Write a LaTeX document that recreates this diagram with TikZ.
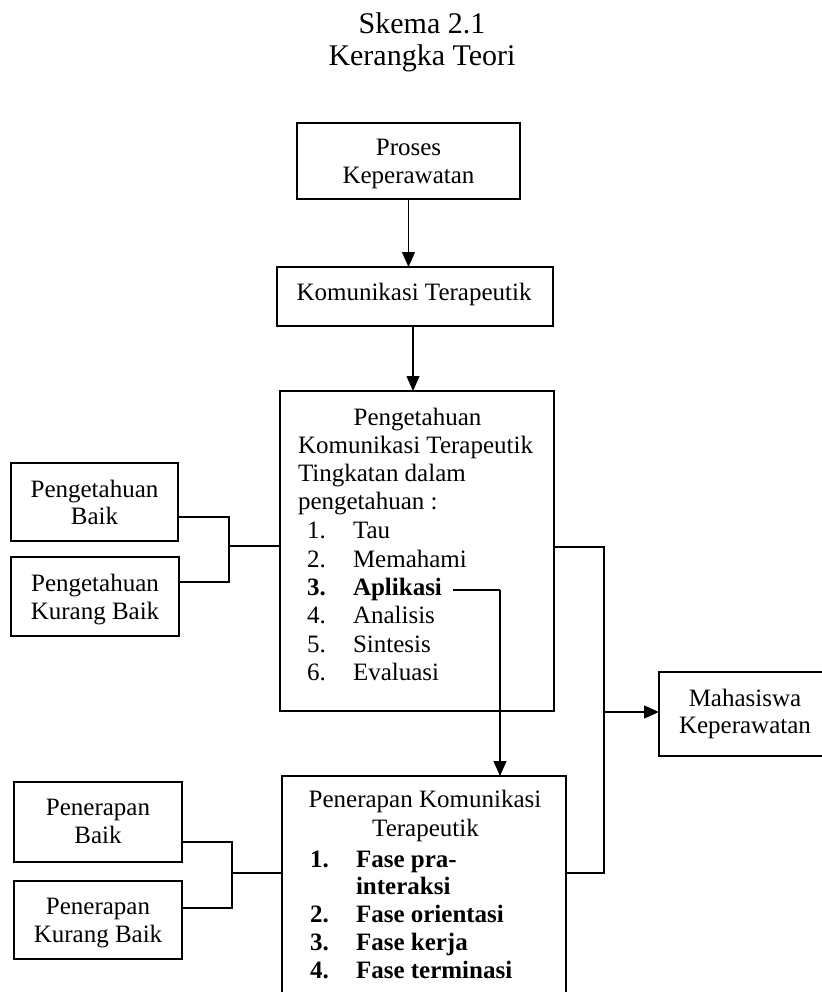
\documentclass[tikz,border=0pt]{standalone}
\usepackage{fontspec}
\setmainfont{Liberation Serif}
\usetikzlibrary{arrows.meta,fit}
\begin{document}
\begin{tikzpicture}[x=0.5pt,y=-0.5pt,
  box/.style={draw,line width=0.55pt,inner sep=0pt,outer sep=0pt},
  txt/.style={inner sep=0pt,outer sep=0pt,anchor=base,font=\fontsize{12.5pt}{14pt}\selectfont},
  ltxt/.style={txt,anchor=base west},
  ttl/.style={inner sep=0pt,outer sep=0pt,anchor=base,font=\fontsize{15pt}{17pt}\selectfont},
  ln/.style={line width=0.7pt},
  arr/.style={line width=0.6pt,-{Triangle[width=6.5pt,length=7.5pt]}}]
\useasboundingbox (0,0) rectangle (822,992);

% title
\node[ttl] (s1) at (422,33) {Skema 2.1};
\node[ttl] (s2) at (422,65) {Kerangka Teori};

% boxes
\node[box,fit={(297,123) (520,199)}] (proses) {};
\node[box,fit={(277,267) (553,326)}] (kom) {};
\node[box,fit={(280,391) (554,711)}] (peng) {};
\node[box,fit={(282,776) (566,1010)}] (pen) {};
\node[box,fit={(659,672) (840,756)}] (maha) {};
\node[box,fit={(11,463) (178,541)}] (pb) {};
\node[box,fit={(11,557) (179,636)}] (pkb) {};
\node[box,fit={(14,782) (182,862)}] (peb) {};
\node[box,fit={(14,881) (182,959)}] (pekb) {};

% texts
\node[txt] (t1) at (408.5,155) {Proses};
\node[txt] (t2) at (408.5,183) {Keperawatan};
\node[txt] (t3) at (414,300) {Komunikasi Terapeutik};

\node[txt] (t4) at (417.5,425) {Pengetahuan};
\node[ltxt] (t5) at (298,453) {Komunikasi Terapeutik};
\node[ltxt] (t6) at (298,481) {Tingkatan dalam};
\node[ltxt] (t7) at (298,509) {pengetahuan :};
\node[ltxt] (n1) at (307,538) {1.};
\node[ltxt] (i1) at (353,538) {Tau};
\node[ltxt] (n2) at (307,567) {2.};
\node[ltxt] (i2) at (353,567) {Memahami};
\node[ltxt] (n3) at (307,595) {\bfseries 3.};
\node[ltxt] (i3) at (353,595) {\bfseries Aplikasi};
\node[ltxt] (n4) at (307,623) {4.};
\node[ltxt] (i4) at (353,623) {Analisis};
\node[ltxt] (n5) at (307,652) {5.};
\node[ltxt] (i5) at (353,652) {Sintesis};
\node[ltxt] (n6) at (307,680) {6.};
\node[ltxt] (i6) at (353,680) {Evaluasi};

\node[txt] (u1) at (425,807) {Penerapan Komunikasi};
\node[txt] (u2) at (425.5,836) {Terapeutik};
\node[ltxt] (m1) at (310,867) {\bfseries 1.};
\node[ltxt] (k1) at (356,867) {\bfseries Fase pra-};
\node[ltxt] (k1b) at (356,894) {\bfseries interaksi};
\node[ltxt] (m2) at (310,922) {\bfseries 2.};
\node[ltxt] (k2) at (356,922) {\bfseries Fase orientasi};
\node[ltxt] (m3) at (310,950) {\bfseries 3.};
\node[ltxt] (k3) at (356,950) {\bfseries Fase kerja};
\node[ltxt] (m4) at (310,978) {\bfseries 4.};
\node[ltxt] (k4) at (356,978) {\bfseries Fase terminasi};

\node[txt] (v1) at (745,706) {Mahasiswa};
\node[txt] (v2) at (745,733) {Keperawatan};

\node[txt] (w1) at (94.5,497) {Pengetahuan};
\node[txt] (w2) at (94.5,524) {Baik};
\node[txt] (w3) at (95,591) {Pengetahuan};
\node[txt] (w4) at (95,619) {Kurang Baik};

\node[txt] (x1) at (98,815) {Penerapan};
\node[txt] (x2) at (98,843) {Baik};
\node[txt] (x3) at (98,914) {Penerapan};
\node[txt] (x4) at (98,942) {Kurang Baik};

% connectors
\draw[arr] (proses.south) -- (proses.south |- kom.north);
\draw[arr] ([xshift=-1pt]kom.south) -- ([xshift=-1pt]kom.south |- peng.north);

\coordinate (j1) at (229,546);
\draw[ln] ([yshift=-7.5pt]pb.east) -| (j1) |- ([yshift=7.25pt]pkb.east);
\draw[ln] (j1) -- (peng.west |- j1);

\coordinate (j2) at (232,873);
\draw[ln] ([yshift=-10pt]peb.east) -| (j2) |- ([yshift=6pt]pekb.east);
\draw[ln] (j2) -- (pen.west |- j2);

\coordinate (j4) at (604,547);
\coordinate (j5) at (604,873);
\draw[ln] (peng.east |- j4) -- (j4) -- (j5) -- (pen.east |- j5);
\coordinate (j3) at (604,712);
\draw[arr] (j3) -- (maha.west |- j3);

\coordinate (a1) at (453,590);
\coordinate (a2) at (500,590);
\draw[line width=0.6pt] (a1) -- (a2);
\draw[arr] (a2) -- (a2 |- pen.north);
\end{tikzpicture}
\end{document}
